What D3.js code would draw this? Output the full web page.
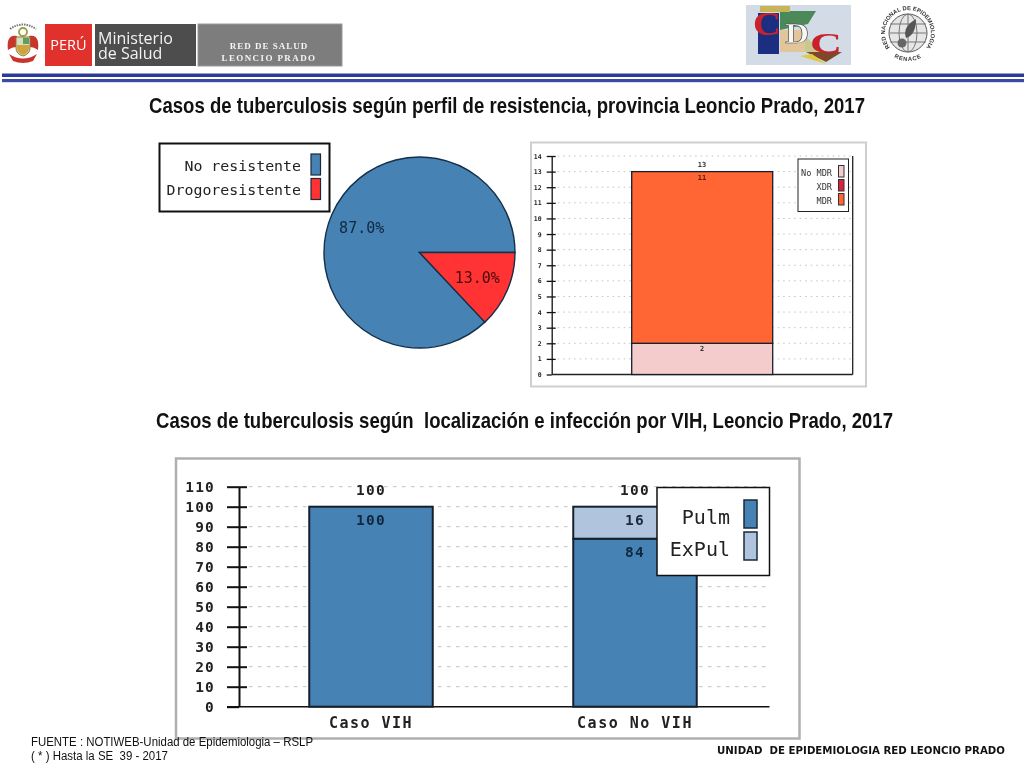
<!DOCTYPE html>
<html>
<head>
<meta charset="utf-8">
<style>
	html, body { margin: 0; padding: 0; background: #fff; }
	svg { display: block; }
	text { white-space: pre; }
</style>
<script src="https://cdn.jsdelivr.net/npm/d3@7"></script>
</head>
<body>
<svg id="page" width="1024" height="768"></svg>
<script>
"use strict"

//chart data
var titles = [
	"Casos de tuberculosis según perfil de resistencia, provincia Leoncio Prado, 2017",
	"Casos de tuberculosis según  localización e infección por VIH, Leoncio Prado, 2017"
];

var pieLabels = ["No resistente", "Drogoresistente"];
var pieValues = [87, 13];

var mdrTicks = [0, 1, 2, 3, 4, 5, 6, 7, 8, 9, 10, 11, 12, 13, 14];
var mdrLegend = ["No MDR", "XDR", "MDR"];
var noMdrValues = [2];
var xdrValues = [0];
var mdrValues = [11];
var mdrTotals = [13];

var vihCategories = ["Caso VIH", "Caso No VIH"];
var vihTicks = [0, 10, 20, 30, 40, 50, 60, 70, 80, 90, 100, 110];
var vihLegend = ["Pulm", "ExPul"];
var pulmValues = [100, 84];
var expulValues = [0, 16];
var vihTotals = [100, 100];

var footerLeft = ["FUENTE : NOTIWEB-Unidad de Epidemiologia – RSLP", "( * ) Hasta la SE  39 - 2017"];
var footerRight = "UNIDAD  DE EPIDEMIOLOGIA RED LEONCIO PRADO";

//colours
var steel = "#4682b4", red = "#ff3333", orange = "#ff6633", pink = "#f4cccc", crimson = "#dc2040", lightSteel = "#b0c4de";
var ink = "#14202c";
var mono = "'DejaVu Sans Mono', monospace";

var svg = d3.select("#page");

function addRect(parent, x, y, w, h, fill, stroke, strokeWidth){
	return parent.append("rect")
		.attr("x", x).attr("y", y)
		.attr("width", w).attr("height", h)
		.attr("fill", fill)
		.attr("stroke", stroke || "none")
		.attr("stroke-width", strokeWidth || 0);
}

function addText(parent, x, y, value, size, family, fill, anchor, weight){
	return parent.append("text")
		.attr("x", x).attr("y", y)
		.attr("font-size", size)
		.attr("font-family", family)
		.attr("fill", fill || "#000")
		.attr("text-anchor", anchor || "start")
		.attr("font-weight", weight || "normal")
		.text(value);
}

//left axis with ticks crossing the line, plus the grid behind the bars
function drawAxis(parent, y, ticks, opts){
	parent.append("g").selectAll("line").data(ticks.slice(1)).join("line")
		.attr("x1", opts.x + opts.tickRight + 2).attr("x2", opts.gridEnd)
		.attr("y1", y).attr("y2", y)
		.attr("stroke", "#c2c2c2")
		.attr("stroke-width", 1)
		.attr("stroke-dasharray", opts.dash);

	var axis = parent.append("g")
		.attr("transform", "translate(" + opts.x + ",0)")
		.call(d3.axisLeft(y).tickValues(ticks).tickFormat(d3.format("d")).tickSizeOuter(0));

	axis.selectAll("line")
		.attr("x1", -opts.tickLeft).attr("x2", opts.tickRight)
		.attr("stroke", "#111").attr("stroke-width", opts.width);
	axis.select(".domain").attr("stroke", "#111").attr("stroke-width", opts.width);
	axis.selectAll("text")
		.attr("x", -opts.labelGap)
		.attr("font-family", mono)
		.attr("font-size", opts.fontSize)
		.attr("font-weight", "bold")
		.attr("letter-spacing", opts.spacing)
		.attr("fill", "#222");

	//the zero tick only reaches left
	axis.selectAll(".tick").filter(function(d){ return d == 0; }).select("line").attr("x2", 0);
}

//header
function drawHeader(){
	var defs = svg.append("defs");
	defs.append("filter").attr("id", "soft")
		.append("feGaussianBlur").attr("stdDeviation", 0.45);

	var head = svg.append("g");
	var logos = head.append("g").attr("filter", "url(#soft)");

	//coat of arms
	var arms = logos.append("g").attr("transform", "translate(23,44)");
	arms.append("path").attr("d", "M-13,-15 Q0,-24 13,-15").attr("fill", "none").attr("stroke", "#777").attr("stroke-width", 2).attr("stroke-dasharray", "1.5 1");
	arms.append("path").attr("d", "M-6,-8 C-15,-10 -16,-2 -15,6 C-12,4 -10,3 -6,3 Z").attr("fill", "#c8352c");
	arms.append("path").attr("d", "M6,-8 C15,-10 16,-2 15,6 C12,4 10,3 6,3 Z").attr("fill", "#c8352c");
	arms.append("circle").attr("cx", 0).attr("cy", -12).attr("r", 4).attr("fill", "none").attr("stroke", "#9aa23e").attr("stroke-width", 1.8);
	arms.append("path").attr("d", "M-7,-7 H7 V4 Q7,10 0,12 Q-7,10 -7,4 Z").attr("fill", "#d8dcc0").attr("stroke", "#8c7a3c").attr("stroke-width", 1);
	addRect(arms, 0, -6, 6, 6, "#5f9e62");
	arms.append("path").attr("d", "M-6,1 H6 V4 Q6,9 0,11 Q-6,9 -6,4 Z").attr("fill", "#d0a33c");
	arms.append("path").attr("d", "M-14,10 Q0,19 14,10 L10,17 Q0,21 -10,17 Z").attr("fill", "#c8352c");

	addRect(head, 45, 24, 47, 42, "#e1312c");
	addText(head, 68.5, 50, "PERÚ", 14.5, "'Open Sans'", "#fff", "middle");
	addRect(head, 95, 24, 101, 42, "#4d4d4d");
	addText(head, 98, 44, "Ministerio", 16, "'Open Sans'", "#f2f2f2");
	addText(head, 98, 59, "de Salud", 16, "'Open Sans'", "#f2f2f2");
	addRect(head, 198, 24, 144, 42, "#7d7d7d", "#9a9a9a", 1);
	addText(head, 269, 49, "RED DE SALUD", 9, "'Liberation Serif'", "#f4f4f4", "middle", "bold").attr("letter-spacing", 1);
	addText(head, 269, 60.5, "LEONCIO PRADO", 9, "'Liberation Serif'", "#f4f4f4", "middle", "bold").attr("letter-spacing", 1.4);

	//double rule
	addRect(head, 2, 73.5, 1022, 3.5, "#2b3a98");
	addRect(head, 2, 79, 1022, 3.2, "#3a4aa6");

	//cdc logo
	var cdc = logos.append("g");
	addRect(cdc, 746, 5, 105, 60, "#d3dbe6");
	cdc.append("path").attr("d", "M757,11 H816 L808,24 L780,30 V12 Z").attr("fill", "#4c8a58");
	cdc.append("path").attr("d", "M760,6 L790,6 L790,12 L760,12 Z").attr("fill", "#c8b458");
	addRect(cdc, 758, 13, 21, 41, "#1c2f80");
	addRect(cdc, 780, 30, 25, 22, "#e2c69a");
	cdc.append("path").attr("d", "M805,36 L822,52 H805 Z").attr("fill", "#c8c890");
	cdc.append("path").attr("d", "M806,52 H842 L826,62 Z").attr("fill", "#7c4a2c");
	cdc.append("path").attr("d", "M800,56 L826,64 L812,54 Z").attr("fill", "#e0c840");
	addText(cdc, 753, 35, "C", 34, "'Liberation Serif'", "#c8242c", "start", "bold")
		.attr("textLength", 28).attr("lengthAdjust", "spacingAndGlyphs");
	addText(cdc, 785, 43, "D", 30, "'Liberation Serif'", "#f6f6f2", "start", "bold")
		.attr("textLength", 24).attr("lengthAdjust", "spacingAndGlyphs")
		.attr("stroke", "#444").attr("stroke-width", 0.6);
	addText(cdc, 810, 53, "C", 30, "'Liberation Serif'", "#c8242c", "start", "bold")
		.attr("textLength", 32).attr("lengthAdjust", "spacingAndGlyphs");

	//renace logo
	var cx = 908, cy = 33;
	var renace = logos.append("g");
	renace.append("circle").attr("cx", cx).attr("cy", cy).attr("r", 19).attr("fill", "#e6e6e6").attr("stroke", "#555").attr("stroke-width", 1);
	renace.append("ellipse").attr("cx", cx).attr("cy", cy).attr("rx", 9).attr("ry", 19).attr("fill", "none").attr("stroke", "#777");
	[-9, 0, 9].forEach(function(d){
		renace.append("line").attr("x1", cx - 18).attr("x2", cx + 18).attr("y1", cy + d).attr("y2", cy + d).attr("stroke", "#777");
	});
	renace.append("line").attr("x1", cx).attr("x2", cx).attr("y1", cy - 19).attr("y2", cy + 19).attr("stroke", "#777");
	renace.append("path")
		.attr("d", "M" + (cx + 8) + "," + (cy - 14) + " Q" + (cx + 8) + "," + (cy + 2) + " " + (cx - 2) + "," + (cy + 5) + " Q" + (cx - 6) + "," + (cy - 6) + " " + (cx + 8) + "," + (cy - 14) + " Z")
		.attr("fill", "#555");
	renace.append("circle").attr("cx", cx - 6).attr("cy", cy + 10).attr("r", 4.5).attr("fill", "#666");

	var top = d3.path();
	top.arc(cx, cy, 23, -Math.PI * 1.25, Math.PI * 0.25, false);
	defs.append("path").attr("id", "renaceTop").attr("d", top.toString());
	var bottom = d3.path();
	bottom.arc(cx, cy, 28, Math.PI * 0.85, Math.PI * 0.15, true);
	defs.append("path").attr("id", "renaceBottom").attr("d", bottom.toString());

	renace.append("text").attr("font-size", 5.8).attr("font-weight", "bold").attr("font-family", "'Liberation Sans'").attr("fill", "#333")
		.append("textPath").attr("href", "#renaceTop").attr("startOffset", "50%").attr("text-anchor", "middle")
		.text("RED NACIONAL DE EPIDEMIOLOGIA");
	renace.append("text").attr("font-size", 5.8).attr("font-weight", "bold").attr("font-family", "'Liberation Sans'").attr("fill", "#333").attr("letter-spacing", 0.8)
		.append("textPath").attr("href", "#renaceBottom").attr("startOffset", "50%").attr("text-anchor", "middle")
		.text("RENACE");
}

//titles
function drawTitles(){
	addText(svg, 149, 113, titles[0], 21.5, "'Liberation Sans Narrow', 'Liberation Sans'", "#111", "start", "bold")
		.attr("textLength", 716).attr("lengthAdjust", "spacingAndGlyphs");
	addText(svg, 156, 428, titles[1], 21.5, "'Liberation Sans Narrow', 'Liberation Sans'", "#111", "start", "bold")
		.attr("textLength", 737).attr("lengthAdjust", "spacingAndGlyphs");
}

//resistance pie
function drawPie(){
	var colors = [steel, red];
	var legend = svg.append("g");
	addRect(legend, 159.5, 143.5, 170, 68, "#fff", "#111", 2);
	pieLabels.forEach(function(label, i){
		addText(legend, 301, 171 + i * 24, label, 14.9, mono, "#222", "end");
		addRect(legend, 311, 154 + i * 24.5, 9.5, 21, colors[i], "#1a2a3a", 1.2);
	});

	var offset = Math.PI / 2 + pieValues[1] / 100 * 2 * Math.PI;
	var pie = d3.pie().sort(null).startAngle(offset).endAngle(offset + 2 * Math.PI);
	var arc = d3.arc().innerRadius(0).outerRadius(95.5);
	var labelArc = d3.arc().innerRadius(63).outerRadius(63);

	var g = svg.append("g").attr("transform", "translate(419.5,252.5)");
	var slices = pie(pieValues);
	g.selectAll("path").data(slices).join("path")
		.attr("d", arc)
		.attr("fill", function(d, i){ return colors[i]; })
		.attr("stroke", "#14304a")
		.attr("stroke-width", 1.4);
	g.selectAll("text").data(slices).join("text")
		.attr("transform", function(d){ return "translate(" + labelArc.centroid(d) + ")"; })
		.attr("dy", "0.35em")
		.attr("text-anchor", "middle")
		.attr("font-family", mono)
		.attr("font-size", 15)
		.attr("fill", function(d, i){ return i == 0 ? "#10283f" : "#4a0a0a"; })
		.text(function(d){ return d3.format(".1f")(d.value) + "%"; });
}

//stacked bars shared by the two bar charts
function drawStack(parent, table, keys, colors, x, y, barWidth, strokeWidth){
	var layers = d3.stack().keys(keys)(table);
	parent.append("g").selectAll("g").data(layers).join("g")
		.attr("fill", function(d, i){ return colors[i]; })
		.selectAll("rect").data(function(d){ return d; }).join("rect")
		.filter(function(d){ return d[1] > d[0]; })
		.attr("x", function(d){ return x(d.data.category) - barWidth / 2; })
		.attr("width", barWidth)
		.attr("y", function(d){ return y(d[1]); })
		.attr("height", function(d){ return y(d[0]) - y(d[1]); })
		.attr("stroke", ink)
		.attr("stroke-width", strokeWidth);
	return layers;
}

//mdr profile
function drawMdr(){
	var g = svg.append("g");
	addRect(g, 531, 142.5, 335, 244, "#fff", "#cfcfcf", 2);

	var y = d3.scaleLinear().domain([0, 14]).range([374.5, 156]);
	var x = d3.scalePoint().domain(["total"]).range([702.2, 702.2]);
	var table = noMdrValues.map(function(d, i){
		return { category: "total", noMdr: d, xdr: xdrValues[i], mdr: mdrValues[i] };
	});

	drawAxis(g, y, mdrTicks, {
		x: 551.7, gridEnd: 852, tickLeft: 5, tickRight: 4, labelGap: 10,
		dash: "1.5 4", width: 1.3, fontSize: 6.5, spacing: 0
	});
	g.append("line").attr("x1", 551.7).attr("x2", 852.7).attr("y1", y(0)).attr("y2", y(0)).attr("stroke", "#222").attr("stroke-width", 1.3);
	g.append("line").attr("x1", 852.7).attr("x2", 852.7).attr("y1", y(14)).attr("y2", y(0)).attr("stroke", "#222").attr("stroke-width", 1.3);

	drawStack(g, table, ["noMdr", "xdr", "mdr"], [pink, crimson, orange], x, y, 141, 1.3);

	addText(g, 702, y(mdrTotals[0]) - 5, mdrTotals[0], 7, mono, "#333", "middle", "bold");
	addText(g, 702, y(noMdrValues[0] + mdrValues[0]) + 8, mdrValues[0], 7, mono, "#5a1a08", "middle", "bold");
	addText(g, 702, y(noMdrValues[0]) + 8, noMdrValues[0], 7, mono, "#333", "middle", "bold");

	addRect(g, 798, 159, 50.5, 52.5, "#fff", "#222", 1);
	[pink, crimson, orange].forEach(function(color, i){
		addText(g, 832, 176 + i * 14, mdrLegend[i], 8.6, mono, "#333", "end");
		addRect(g, 838.5, 165.5 + i * 14, 5.5, 11.5, color, "#333", 1);
	});
}

//vih chart
function drawVih(){
	var g = svg.append("g");
	addRect(g, 176, 458.5, 623.5, 280, "#fff", "#b0b0b0", 2.5);

	var y = d3.scaleLinear().domain([0, 110]).range([706.7, 486.7]);
	var x = d3.scalePoint().domain(vihCategories).range([371, 635]);
	var table = vihCategories.map(function(d, i){
		return { category: d, pulm: pulmValues[i], expul: expulValues[i] };
	});

	drawAxis(g, y, vihTicks, {
		x: 239, gridEnd: 768, tickLeft: 12, tickRight: 8, labelGap: 24,
		dash: "3.5 5.5", width: 2, fontSize: 14.5, spacing: 1.2
	});
	g.append("line").attr("x1", 227).attr("x2", 769.5).attr("y1", y(0)).attr("y2", y(0)).attr("stroke", "#111").attr("stroke-width", 1.5);

	drawStack(g, table, ["pulm", "expul"], [steel, lightSteel], x, y, 123.5, 2);

	function barLabel(px, py, value, fill){
		addText(g, px, py, value, 14.5, mono, fill, "middle", "bold").attr("letter-spacing", 1.2);
	}
	vihCategories.forEach(function(category, i){
		barLabel(x(category), 495, vihTotals[i], "#222");
		addText(g, x(category), 728, category, 15, mono, "#222", "middle", "bold").attr("letter-spacing", 1.5);
	});
	barLabel(x(vihCategories[0]), 525, pulmValues[0], "#10283f");
	barLabel(x(vihCategories[1]), 525, expulValues[1], "#1a2a3a");
	barLabel(x(vihCategories[1]), 557, pulmValues[1], "#10283f");

	addRect(g, 657, 487.5, 112.5, 88, "#fff", "#111", 1.5);
	[steel, lightSteel].forEach(function(color, i){
		addText(g, 730, 524 + i * 32, vihLegend[i], 20, mono, "#222", "end");
		addRect(g, 744, 500 + i * 32, 13, 28, color, "#1a2a3a", 1.5);
	});
}

//footer
function drawFooter(){
	addText(svg, 31, 746, footerLeft[0], 12, "'Liberation Sans'", "#111")
		.attr("textLength", 282).attr("lengthAdjust", "spacingAndGlyphs");
	addText(svg, 31, 760, footerLeft[1], 12, "'Liberation Sans'", "#111")
		.attr("textLength", 137).attr("lengthAdjust", "spacingAndGlyphs");
	addText(svg, 717, 754, footerRight, 10.5, "'DejaVu Sans'", "#111", "start", "bold")
		.attr("textLength", 288).attr("lengthAdjust", "spacingAndGlyphs");
}

drawHeader();
drawTitles();
drawPie();
drawMdr();
drawVih();
drawFooter();
</script>
</body>
</html>
